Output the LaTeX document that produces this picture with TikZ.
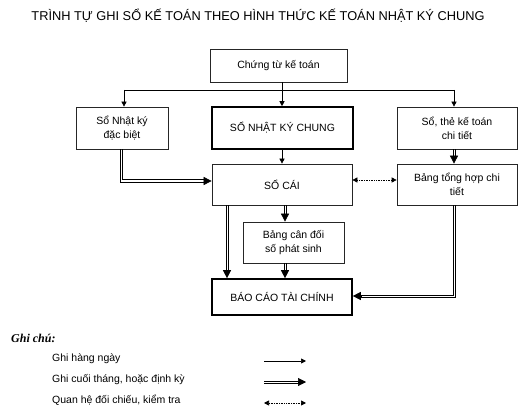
\documentclass[tikz,border=0pt]{standalone}
\usepackage{fontspec}
\setmainfont{Liberation Sans}
\newfontfamily\serifit{Liberation Serif}
\usetikzlibrary{arrows.meta,calc}
% vertical double arrow, going down, from #1 to #2 (same x)
\newcommand\myvdbl[2]{%
  \draw[dthin] ($#1+(-1.1,0)$) -- ($#2+(-1.1,-7.5)$);
  \draw[dthin] ($#1+(1.1,0)$) -- ($#2+(1.1,-7.5)$);
  \draw[dtip] ($#2+(0,-8)$) -- #2;}
% horizontal double arrow, going right
\newcommand\myhdbl[2]{%
  \draw[dthin] ($#1+(0,-1.1)$) -- ($#2+(-7.5,-1.1)$);
  \draw[dthin] ($#1+(0,1.1)$) -- ($#2+(-7.5,1.1)$);
  \draw[dtip] ($#2+(-8,0)$) -- #2;}
\begin{document}
\begin{tikzpicture}[x=1pt,y=-1pt,
  box/.style={draw=black!85, line width=0.7pt, fill=white, align=center,
    font=\fontsize{10.5}{14}\selectfont, inner sep=0pt},
  thickbox/.style={box, draw=black, line width=1.6pt},
  plain/.style={line width=0.7pt},
  sarr/.style={line width=0.7pt, -{Triangle[length=5pt,width=5pt]}},
  dtip/.style={line width=0.6pt, -{Triangle[length=8pt,width=8pt]}},
  dthin/.style={line width=0.8pt, draw=black},
  dotarr/.style={densely dotted, line width=0.7pt, {Triangle[length=5pt,width=5pt]}-{Triangle[length=5pt,width=5pt]}},
  lbl/.style={anchor=west, inner sep=0pt, font=\fontsize{10.5}{12}\selectfont},
]
\useasboundingbox (0,0) rectangle (528,417);
\fill[white] (0,0) rectangle (528,417);

\node[inner sep=0pt, font=\fontsize{12.8}{14}\selectfont] (title) at (258,16)
  {TRÌNH TỰ GHI SỔ KẾ TOÁN THEO HÌNH THỨC KẾ TOÁN NHẬT KÝ CHUNG};

\node[box, minimum width=137pt, minimum height=33pt] (chungtu) at (278.5,65.5) {Chứng từ kế toán};
\node[box, minimum width=92pt, minimum height=42pt] (sonk) at (122,128) {Sổ Nhật ký\\đặc biệt};
\node[thickbox, minimum width=141pt, minimum height=42pt] (nkc) at (282.5,128) {SỔ NHẬT KÝ CHUNG};
\node[box, minimum width=120pt, minimum height=42pt] (sothe) at (457,128) {Sổ, thẻ kế toán\\chi tiết};
\node[box, minimum width=140pt, minimum height=41pt] (socai) at (282,184.5) {SỔ CÁI};
\node[box, minimum width=120pt, minimum height=41pt] (bangth) at (457,184.5) {Bảng tổng hợp chi\\tiết};
\node[box, minimum width=101pt, minimum height=41pt] (bcd) at (293.5,242.5) {Bảng cân đối\\số phát sinh};
\node[thickbox, minimum width=140pt, minimum height=36pt] (bctc) at (282,297) {BÁO CÁO TÀI CHÍNH};

% top distribution
\coordinate (J) at (282,90);
\coordinate (jl) at (124,90);
\coordinate (jr) at (454,90);
\draw[plain] (chungtu.south -| J) -- (J);
\draw[plain] (jl) -- (jr);
\draw[sarr] (jl) -- (jl |- sonk.north);
\draw[sarr] (J) -- (J |- nkc.north);
\draw[sarr] (jr) -- (jr |- sothe.north);
\draw[sarr] (nkc.south -| J) -- (socai.north -| J);

% Sổ nhật ký đặc biệt -> sổ cái
\coordinate (a1) at (121,181);
\draw[dthin] ($(sonk.south -| a1)+(-1.1,0)$) |- ($(a1 -| socai.west)+(-7.5,1.1)$);
\draw[dthin] ($(sonk.south -| a1)+(1.1,0)$) |- ($(a1 -| socai.west)+(-7.5,-1.1)$);
\draw[dtip] ($(a1 -| socai.west)+(-8,0)$) -- (a1 -| socai.west);

% sổ thẻ -> bảng tổng hợp
\coordinate (r1) at (454,296);
\myvdbl{(sothe.south -| r1)}{(bangth.north -| r1)}
% bảng tổng hợp -> BCTC
\draw[dthin] ($(bangth.south -| r1)+(-1.1,0)$) |- ($(r1 -| bctc.east)+(7.5,-1.1)$);
\draw[dthin] ($(bangth.south -| r1)+(1.1,0)$) |- ($(r1 -| bctc.east)+(7.5,1.1)$);
\draw[dtip] ($(r1 -| bctc.east)+(8,0)$) -- (r1 -| bctc.east);

% dotted check
\coordinate (d1) at (0,180);
\draw[dotarr] (socai.east |- d1) -- (bangth.west |- d1);

% sổ cái -> BCTC, sổ cái -> bcd -> BCTC
\coordinate (c1) at (227,0);
\coordinate (c2) at (285,0);
\myvdbl{(socai.south -| c1)}{(bctc.north -| c1)}
\myvdbl{(socai.south -| c2)}{(bcd.north -| c2)}
\myvdbl{(bcd.south -| c2)}{(bctc.north -| c2)}

% legend
\node[anchor=west, inner sep=0pt, font=\serifit\bfseries\itshape\fontsize{12}{14}\selectfont] (ghichu) at (11,338) {Ghi chú:};
\node[lbl] (l1) at (52,359) {Ghi hàng ngày};
\node[lbl] (l2) at (52,379.5) {Ghi cuối tháng, hoặc định kỳ};
\node[lbl] (l3) at (52,400) {Quan hệ đối chiếu, kiểm tra};
\coordinate (e1s) at (264,361);
\coordinate (e1e) at (306,361);
\coordinate (e2s) at (264,382);
\coordinate (e2e) at (306,382);
\coordinate (e3s) at (264,403);
\coordinate (e3e) at (306,403);
\draw[sarr] (e1s) -- (e1e);
\myhdbl{(e2s)}{(e2e)}
\draw[dotarr] (e3s) -- (e3e);
\end{tikzpicture}
\end{document}
